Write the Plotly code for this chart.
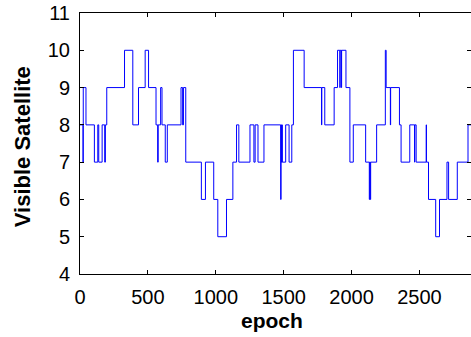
import plotly.graph_objects as go

# step-change epochs and the number of visible satellites from that epoch on
epochs = [0, 22, 24, 44, 106, 131, 138, 163, 182, 187, 197, 328, 389, 431, 480, 505,
          560, 572, 576, 594, 604, 628, 643, 744, 756, 762, 779, 894, 924, 985, 1015,
          1079, 1126, 1153, 1170, 1252, 1281, 1290, 1311, 1355, 1478, 1481, 1484, 1488,
          1490, 1515, 1540, 1560, 1572, 1651, 1779, 1781, 1803, 1872, 1897, 1914, 1916,
          1925, 1927, 1959, 1988, 2013, 2104, 2131, 2134, 2138, 2141, 2185, 2249, 2255,
          2286, 2288, 2353, 2365, 2429, 2464, 2466, 2476, 2550, 2552, 2567, 2620, 2648,
          2703, 2715, 2779, 2858, 2880]
visible = [8, 7, 9, 8, 7, 8, 7, 8, 7, 8, 9, 10, 8, 9, 10, 9,
           8, 7, 8, 9, 8, 7, 8, 9, 8, 9, 7, 6, 7, 6, 5,
           6, 7, 8, 7, 8, 7, 8, 7, 8, 6, 8, 7, 8,
           7, 8, 7, 8, 10, 9, 8, 9, 8, 9, 10, 9, 10,
           9, 10, 9, 7, 8, 7, 6, 7, 6, 7, 8, 10, 9,
           8, 9, 8, 7, 8, 7, 8, 7, 8, 7, 6, 5, 6,
           7, 6, 7, 8, 8]

x_ticks = [0, 500, 1000, 1500, 2000, 2500]
y_ticks = [4, 5, 6, 7, 8, 9, 10, 11]
x_title = "epoch"
y_title = "Visible Satellite"

fig = go.Figure(go.Scatter(x=epochs, y=visible, mode="lines", line_shape="hv",
                           line=dict(color="#0000ff", width=1)))

font = "Liberation Sans, Arial, Helvetica, sans-serif"
fig.update_layout(
    width=471, height=337,
    margin=dict(l=80, r=0, t=13, b=63),
    paper_bgcolor="white", plot_bgcolor="white",
    showlegend=False,
    font=dict(family=font, size=20, color="black"),
)
common = dict(ticks="inside", ticklen=4, showline=True, linecolor="black", linewidth=1,
              mirror="ticks", showgrid=False, zeroline=False, tickcolor="black",
              automargin=False)
fig.update_xaxes(range=[0, 2880], tickvals=x_ticks, ticklabelstandoff=5, **common)
fig.update_yaxes(range=[4, 11], tickvals=y_ticks, ticklabelstandoff=5, **common)

fig.add_annotation(text=f"<b>{x_title}</b>", xref="paper", yref="paper",
                   x=0.49, y=-0.18, xanchor="center", yanchor="middle",
                   showarrow=False, font=dict(size=21))
fig.add_annotation(text=f"<b>{y_title}</b>", xref="paper", yref="paper",
                   x=-0.145, y=0.487, xanchor="center", yanchor="middle",
                   textangle=-90, showarrow=False, font=dict(size=22))

fig.write_html("out.html", config={"displayModeBar": False},
               post_script="document.body.style.margin='0';document.body.style.overflow='hidden';")
